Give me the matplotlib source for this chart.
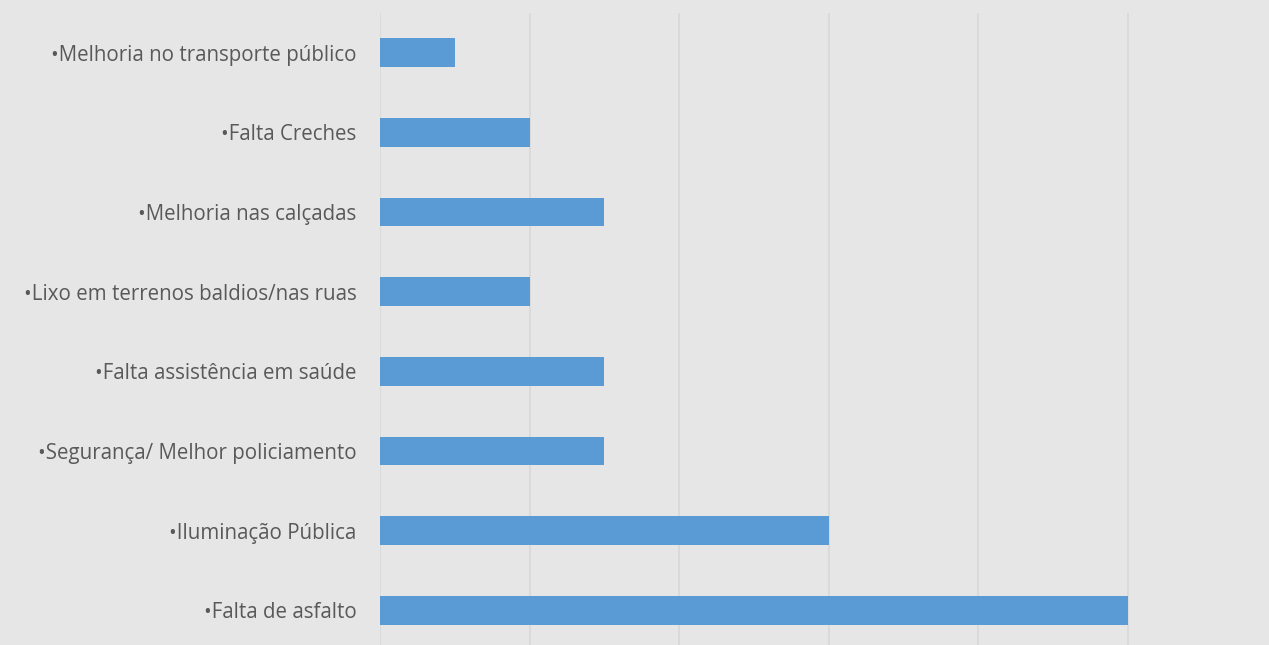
import matplotlib.pyplot as plt

categorias = ['Falta de asfalto', 'Iluminação Pública', 'Segurança/ Melhor policiamento',
              'Falta assistência em saúde', 'Lixo em terrenos baldios/nas ruas',
              'Melhoria nas calçadas', 'Falta Creches', 'Melhoria no transporte público']
valores = [10, 6, 3, 3, 2, 3, 2, 1]

bg = '#e6e6e6'
fig = plt.figure(figsize=(12.69, 6.45), dpi=100, facecolor=bg)
W, H = 1269, 645
# axes from x=380 to 1277 px, y from 12 to 650 px
ax = fig.add_axes([380 / W, (H - 650) / H, (1277 - 380) / W, (650 - 13) / H])
ax.set_facecolor(bg)

ypos = range(len(categorias))
ax.barh(ypos, valores, height=0.36, color='#5b9bd5', zorder=3)

ax.set_xlim(0, 12)
ax.set_ylim(-0.5, len(categorias) - 0.5)
ax.set_xticks(range(0, 13, 2))
ax.set_xticklabels([])
ax.tick_params(axis='x', length=0)
ax.grid(axis='x', color='#d9d9d9', linewidth=1.3, zorder=0)
ax.set_yticks(list(ypos))
ax.set_yticklabels(['•' + c for c in categorias], fontsize=14.8, color='#595959',
                   family=['Open Sans', 'DejaVu Sans'])
ax.tick_params(axis='y', length=0, pad=17)
for s in ax.spines.values():
    s.set_visible(False)

fig.savefig('out.png', dpi=100, facecolor=bg)
